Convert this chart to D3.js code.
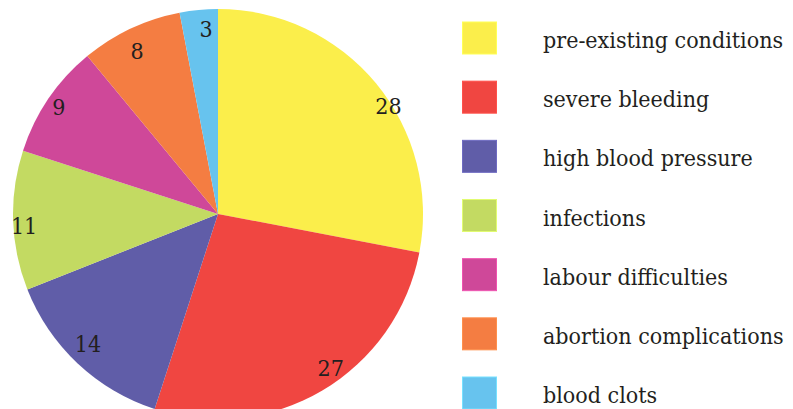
<!DOCTYPE html>
<html>
<head>
<meta charset="utf-8">
<script src="https://cdn.jsdelivr.net/npm/d3@7"></script>
<style>
  html, body { margin: 0; padding: 0; background: #fff; }
  svg { display: block; }
</style>
</head>
<body>
<svg id="chart" width="793" height="409"></svg>
<script>
// Causes and their shares
const causes = [
  "pre-existing conditions",
  "severe bleeding",
  "high blood pressure",
  "infections",
  "labour difficulties",
  "abortion complications",
  "blood clots"
];
const shares = [28, 27, 14, 11, 9, 8, 3];
const colours = ["#fbee4b", "#f04641", "#605da8", "#c3da62", "#cf4899", "#f47d42", "#67c3ee"];

const fontFamily = "'DejaVu Serif Condensed', 'DejaVu Serif', serif";

const svg = d3.select("#chart");
const cx = 218, cy = 214, radius = 205;

const data = causes.map((c, i) => ({ cause: c, value: shares[i], colour: colours[i] }));

const pie = d3.pie().sort(null).value(d => d.value);
const arc = d3.arc().innerRadius(0).outerRadius(radius);
const labelArc = d3.arc().innerRadius(190).outerRadius(190);
// small hand adjustments so the numbers sit clear of the slice edges
const labelNudge = [[24, 13], [16, -10], [0, -9], [-4, 6], [-2, 0], [0, 9], [6, 4]];

const g = svg.append("g").attr("transform", `translate(${cx},${cy})`);
const arcs = pie(data);

g.selectAll("path.slice")
  .data(arcs)
  .join("path")
  .attr("class", "slice")
  .attr("d", arc)
  .attr("fill", d => d.data.colour);

g.selectAll("text.value")
  .data(arcs)
  .join("text")
  .attr("class", "value")
  .attr("transform", (d, i) => {
    const [x, y] = labelArc.centroid(d);
    return `translate(${x + labelNudge[i][0]},${y + labelNudge[i][1]})`;
  })
  .attr("text-anchor", "middle")
  .attr("dy", "0.36em")
  .style("font-family", fontFamily)
  .style("font-size", "23px")
  .style("fill", "#231f20")
  .text(d => d.data.value);

// Legend
const legendY = d3.scalePoint().domain(causes).range([38, 393]);
const legend = svg.append("g");
const items = legend.selectAll("g.item")
  .data(data)
  .join("g")
  .attr("class", "item")
  .attr("transform", d => `translate(462,${legendY(d.cause)})`);

items.append("rect")
  .attr("x", 0.5)
  .attr("y", -16)
  .attr("width", 34)
  .attr("height", 32)
  .attr("fill", d => d.colour)
  .attr("stroke", d => d3.color(d.colour).brighter(0.4))
  .attr("stroke-width", 1);

items.append("text")
  .attr("x", 81)
  .attr("y", 10)
  .style("font-family", fontFamily)
  .style("font-size", "23px")
  .style("fill", "#231f20")
  .text(d => d.cause);
</script>
</body>
</html>
